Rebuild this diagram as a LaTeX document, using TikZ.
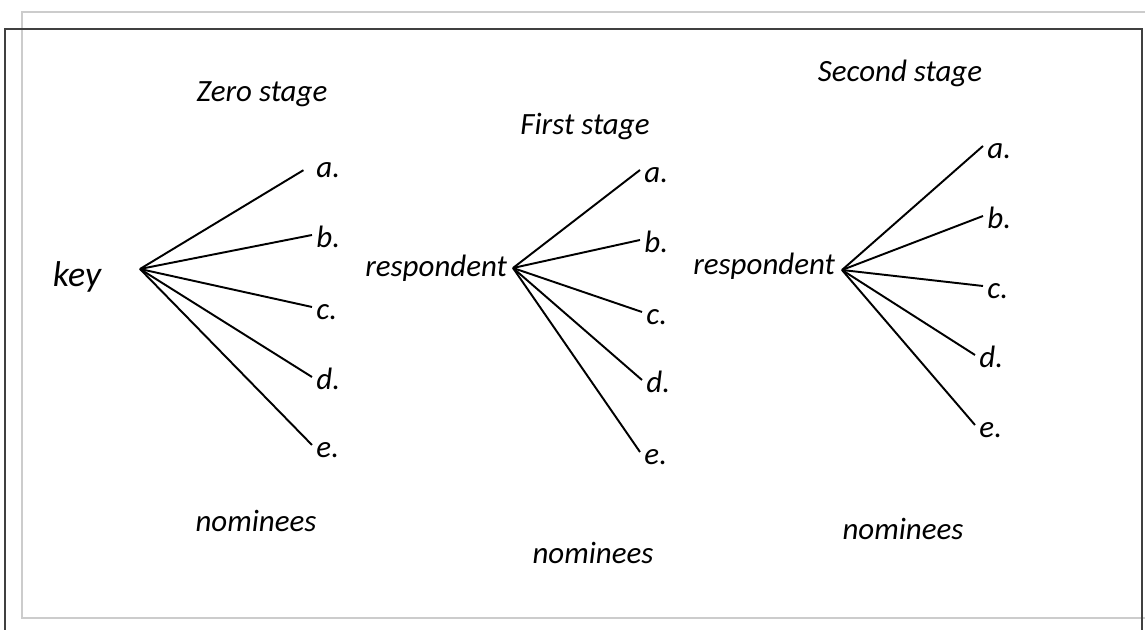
\documentclass[tikz,border=0pt]{standalone}
\usepackage{fontspec}
\setmainfont{Carlito}
\begin{document}
\begin{tikzpicture}[line width=0.55pt,
	root/.style={font=\fontsize{10.2}{12}\selectfont\itshape, anchor=base west, inner sep=0pt},
	resp/.style={font=\fontsize{8.8}{10}\selectfont\itshape, anchor=base east, inner sep=0pt},
	leaf/.style={font=\fontsize{8.8}{10}\selectfont\itshape, anchor=west, inner sep=1pt,
		text height=1.5ex, text depth=0pt},
	stage/.style={font=\fontsize{8.8}{10}\selectfont\itshape, anchor=base, inner sep=0pt},
	outer/.style={draw=black!20, line width=0.45pt},
	inner/.style={draw=black!75, line width=0.45pt}]
	\useasboundingbox (0,0) rectangle (11.45,-6.30);
	% frames
	\draw[outer] (11.45,-0.12) -| (0.22,-6.18) -- (11.45,-6.18);
	\draw[inner] (0.05,-6.30) |- (11.42,-0.29) -- (11.42,-6.30);
	% headings
	\node[stage] (s0) at (2.62,-1.02) {Zero stage};
	\node[stage] (s1) at (5.85,-1.35) {First stage};
	\node[stage] (s2) at (9.00,-0.82) {Second stage};
	\node[stage] (n0) at (2.56,-5.32) {nominees};
	\node[stage] (n1) at (5.93,-5.64) {nominees};
	\node[stage] (n2) at (9.03,-5.40) {nominees};
	% zero stage
	\coordinate (h0) at (1.40,-2.69);
	\node[root] (key) at (0.52,-2.87) {key};
	\node[leaf] (a0) at (3.12,-1.65) {a.};
	\node[leaf] (b0) at (3.12,-2.35) {b.};
	\node[leaf] (c0) at (3.12,-3.07) {c.};
	\node[leaf] (d0) at (3.12,-3.77) {d.};
	\node[leaf] (e0) at (3.12,-4.45) {e.};
	\draw[shorten >=1mm] (h0) -- (a0.west);
	\draw (h0) -- (b0.west);
	\draw (h0) -- (c0.west);
	\draw (h0) -- (d0.west);
	\draw (h0) -- (e0.west);
	% first stage
	\coordinate (h1) at (5.13,-2.68);
	\node[resp] (r1) at (5.08,-2.77) {respondent};
	\node[leaf] (a1) at (6.40,-1.70) {a.};
	\node[leaf] (b1) at (6.40,-2.40) {b.};
	\node[leaf] (c1) at (6.42,-3.12) {c.};
	\node[leaf] (d1) at (6.42,-3.80) {d.};
	\node[leaf] (e1) at (6.40,-4.52) {e.};
	\draw (h1) -- (a1.west);
	\draw (h1) -- (b1.west);
	\draw (h1) -- (c1.west);
	\draw (h1) -- (d1.west);
	\draw (h1) -- (e1.west);
	% second stage
	\coordinate (h2) at (8.42,-2.70);
	\node[resp] (r2) at (8.36,-2.75) {respondent};
	\node[leaf] (a2) at (9.83,-1.46) {a.};
	\node[leaf] (b2) at (9.83,-2.16) {b.};
	\node[leaf] (c2) at (9.83,-2.86) {c.};
	\node[leaf] (d2) at (9.75,-3.55) {d.};
	\node[leaf] (e2) at (9.75,-4.25) {e.};
	\draw (h2) -- (a2.west);
	\draw (h2) -- (b2.west);
	\draw (h2) -- (c2.west);
	\draw (h2) -- (d2.west);
	\draw (h2) -- (e2.west);
\end{tikzpicture}
\end{document}
